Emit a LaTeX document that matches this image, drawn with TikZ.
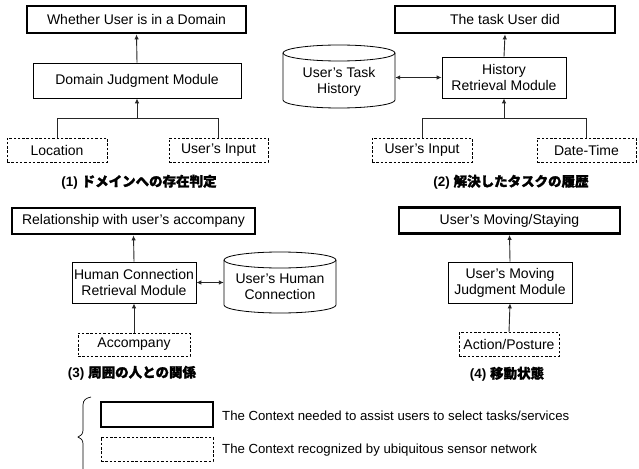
\documentclass[tikz,border=0pt]{standalone}
\usepackage{fontspec}
\setmainfont{Liberation Sans}
\newfontfamily\cjk{Noto Sans CJK JP}[FakeBold=1.5]
\usetikzlibrary{arrows.meta}
\tikzset{
  base/.style={draw=black, inner sep=0pt, align=center, font=\fontsize{14}{16}\selectfont},
  ctxbox/.style={base, line width=2.8pt},
  modbox/.style={base, line width=0.8pt},
  sensbox/.style={base, line width=0.8pt, dash pattern=on 2.5pt off 1.8pt},
  captxt/.style={font=\fontsize{13.5}{15}\selectfont\bfseries, inner sep=0pt},
  conn/.style={line width=0.9pt, draw=black!85},
  arr/.style={conn, -{Latex[length=5pt,width=4.5pt]}},
  darr/.style={conn, {Latex[length=5pt,width=4.5pt]}-{Latex[length=5pt,width=4.5pt]}},
  cylline/.style={line width=0.8pt},
  legtext/.style={anchor=west, inner sep=0pt, font=\fontsize{13.2}{15}\selectfont}
}
\begin{document}
\begin{tikzpicture}[x=1pt,y=-1pt]
\useasboundingbox (0,0) rectangle (639,468);
\fill[white] (0,0) rectangle (639,468);

% ---------- Panel 1 ----------
\node[ctxbox, minimum width=219pt, minimum height=27pt] (w1) at (136.5,19.5) {Whether User is in a Domain};
\node[modbox, minimum width=208pt, minimum height=35pt] (djm) at (137,80.5) {Domain Judgment Module};
\node[sensbox, minimum width=100pt, minimum height=24pt] (loc) at (57,150) {Location};
\node[sensbox, minimum width=99pt, minimum height=24pt] (ui1) at (218.5,150) {User's Input};
\coordinate (f1) at (137,118);
\draw[conn] (loc.north) -- (loc.north |- f1) -- (ui1.north |- f1) -- (ui1.north);
\draw[arr] (f1) -- (djm.south);
\draw[arr] (djm.north) -- (w1.south);
\node[captxt] (c1) at (139,182) {(1) {\cjk ドメインへの存在判定}};

% ---------- Panel 2 ----------
\node[ctxbox, minimum width=220pt, minimum height=27pt] (task) at (505,19.5) {The task User did};
\node[modbox, minimum width=124pt, minimum height=41pt] (hrm) at (504,77.5) {History\\Retrieval Module};
\node[sensbox, minimum width=100pt, minimum height=24pt] (ui2) at (422,150) {User's Input};
\node[sensbox, minimum width=99pt, minimum height=24pt] (dt) at (586.5,150) {Date-Time};
\coordinate (f2) at (504,118);
\draw[conn] (ui2.north) -- (ui2.north |- f2) -- (dt.north |- f2) -- (dt.north);
\draw[arr] (f2) -- (hrm.south);
\draw[arr] (hrm.north) -- (task.south);
% cylinder 1: x 283-395, y 45-108
\node[inner sep=0pt, minimum width=112pt, minimum height=63pt] (cyl1) at (339,76.5) {};
\draw[cylline, fill=white] (283,53) -- (283,100) arc[start angle=180, end angle=360, x radius=56pt, y radius=8pt] -- (395,53);
\draw[cylline] (339,53) ellipse [x radius=56pt, y radius=8pt];
\node[base, draw=none] (cyl1t) at (339,82) {User's Task\\History};
\draw[darr] (hrm.west -| cyl1.east) -- (hrm.west);
\node[captxt] (c2) at (511,182) {(2) {\cjk 解決したタスクの履歴}};

% ---------- Panel 3 ----------
\node[ctxbox, minimum width=243pt, minimum height=26pt] (rel) at (133.5,221) {Relationship with user's accompany};
\node[modbox, minimum width=124pt, minimum height=41pt] (hcrm) at (134,282.5) {Human Connection\\Retrieval Module};
\node[sensbox, minimum width=112pt, minimum height=23pt] (acc) at (134,344.5) {Accompany};
\draw[arr] (acc.north) -- (hcrm.south);
\draw[arr] (hcrm.north) -- (rel.south);
% cylinder 2: x 224-336, y 252-313
\node[inner sep=0pt, minimum width=112pt, minimum height=61pt] (cyl2) at (280,282.5) {};
\draw[cylline, fill=white] (224,260) -- (224,305) arc[start angle=180, end angle=360, x radius=56pt, y radius=8pt] -- (336,260);
\draw[cylline] (280,260) ellipse [x radius=56pt, y radius=8pt];
\node[base, draw=none] (cyl2t) at (280,287) {User's Human\\Connection};
\draw[darr] (hcrm.east) -- (hcrm.east -| cyl2.west);
\node[captxt] (c3) at (132,373) {(3) {\cjk 周囲の人との関係}};

% ---------- Panel 4 ----------
\node[ctxbox, minimum width=221pt, minimum height=26pt] (mov) at (509.5,220.5) {User's Moving/Staying};
\node[modbox, minimum width=124pt, minimum height=41pt] (umjm) at (510,282.5) {User's Moving\\Judgment Module};
\node[sensbox, minimum width=100pt, minimum height=24pt] (ap) at (509,344.5) {Action/Posture};
\draw[arr] (ap.north) -- (umjm.south);
\draw[arr] (umjm.north) -- (mov.south);
\node[captxt] (c4) at (507,374) {(4) {\cjk 移動状態}};

% ---------- Legend ----------
\draw[line width=0.7pt] (91,397) .. controls (86,398) and (83,400) .. (83,405) -- (83,430) .. controls (83,434) and (81,436) .. (78,437) .. controls (81,438) and (83,440) .. (83,444) -- (83,472);
\node[ctxbox, minimum width=112pt, minimum height=25pt] (lg1) at (157,414.5) {};
\node[sensbox, minimum width=112pt, minimum height=24pt] (lg2) at (157,449) {};
\node[legtext] (lt1) at (222,416) {The Context needed to assist users to select tasks/services};
\node[legtext] (lt2) at (222,450) {The Context recognized by ubiquitous sensor network};
\end{tikzpicture}
\end{document}
